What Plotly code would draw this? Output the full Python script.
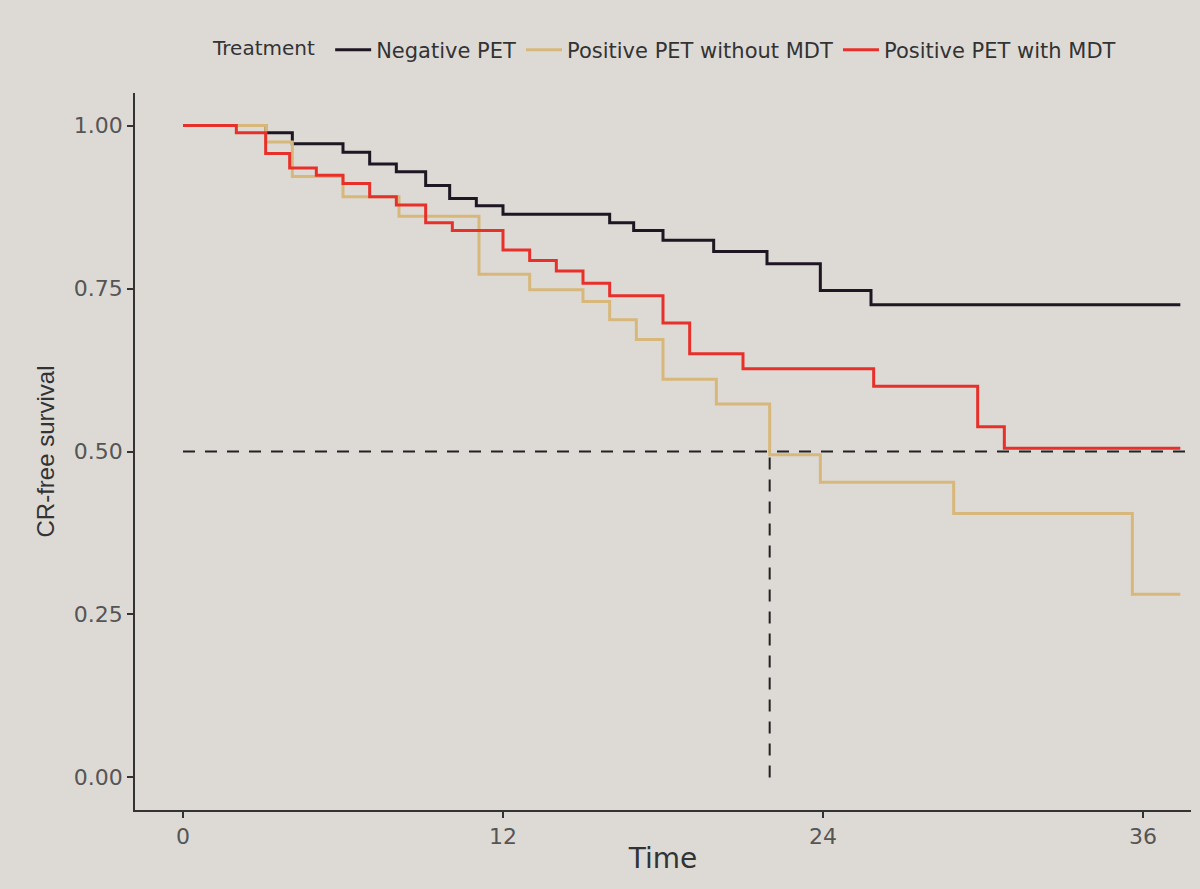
import plotly.graph_objects as go

# ---- data ----
groups = ["Negative PET", "Positive PET without MDT", "Positive PET with MDT"]

neg_time = [0, 3.1, 4.1, 6.0, 7.0, 8.0, 9.1, 10.0, 11.0, 12.0, 16.0, 16.9, 18.0, 19.9, 21.9, 23.9, 25.8]
neg_surv = [1.0, 0.989, 0.972, 0.959, 0.941, 0.929, 0.908, 0.888, 0.877, 0.864, 0.851, 0.839, 0.824, 0.807, 0.788, 0.747, 0.725]

posno_time = [0, 3.1, 4.1, 6.0, 8.1, 11.1, 13.0, 15.0, 16.0, 17.0, 18.0, 20.0, 22.0, 23.9, 28.9, 35.6]
posno_surv = [1.0, 0.975, 0.922, 0.891, 0.861, 0.772, 0.748, 0.730, 0.702, 0.672, 0.611, 0.573, 0.495, 0.453, 0.405, 0.281]

posmdt_time = [0, 2.0, 3.1, 4.0, 5.0, 6.0, 7.0, 8.0, 9.1, 10.1, 12.0, 13.0, 14.0, 15.0, 16.0, 18.0, 19.0, 21.0, 25.9, 29.8, 30.8]
posmdt_surv = [1.0, 0.989, 0.957, 0.935, 0.924, 0.911, 0.891, 0.878, 0.851, 0.839, 0.809, 0.793, 0.777, 0.758, 0.739, 0.697, 0.650, 0.627, 0.600, 0.538, 0.505]

last_followup = 37.4
median_time = 22.0
median_level = 0.5

x_ticks = [0, 12, 24, 36]
y_ticks = [0, 0.25, 0.5, 0.75, 1.0]
y_tick_text = ["0.00", "0.25", "0.50", "0.75", "1.00"]

colors = ["#1e1622", "#d8b87a", "#e8302a"]

BG = "rgb(221,218,214)"
FONT = "DejaVu Sans"

fig = go.Figure()

series = [(neg_time, neg_surv), (posno_time, posno_surv), (posmdt_time, posmdt_surv)]
for name, (t, s), c in zip(groups, series, colors):
    fig.add_trace(go.Scatter(
        x=t + [last_followup], y=s + [s[-1]],
        mode="lines", line=dict(color=c, width=3, shape="hv"),
        name=name, showlegend=True,
    ))

# median survival guide lines
fig.add_trace(go.Scatter(
    x=[0, 37.8], y=[median_level, median_level], mode="lines",
    line=dict(color="#222222", width=2, dash="12px,10px"), showlegend=False, hoverinfo="skip"))
fig.add_trace(go.Scatter(
    x=[median_time, median_time], y=[0, median_level], mode="lines",
    line=dict(color="#222222", width=2, dash="12px,10px"), showlegend=False, hoverinfo="skip"))

fig.update_layout(
    width=1200, height=889,
    paper_bgcolor=BG, plot_bgcolor=BG,
    margin=dict(l=135, r=9, t=93, b=79),
    font=dict(family=FONT, color="#333333"),
    legend=dict(
        orientation="h", x=0.072, xanchor="left", y=1.06, yanchor="middle",
        title=dict(text="Treatment ", font=dict(size=20, color="#333333", family=FONT)),
        font=dict(size=21, color="#333333", family=FONT),
        itemwidth=36,
        bgcolor="rgba(0,0,0,0)",
    ),
    xaxis=dict(
        range=[-1.8, 37.8], tickvals=x_ticks, ticktext=[str(v) for v in x_ticks],
        showgrid=False, zeroline=False, showline=True, linecolor="#333333", linewidth=1.5,
        ticks="outside", ticklen=6, tickcolor="#333333", tickwidth=1.5,
        tickfont=dict(size=22, color="#555555", family=FONT),
        title=dict(text="Time", font=dict(size=28, color="#333333", family=FONT), standoff=0),
    ),
    yaxis=dict(
        range=[-0.05, 1.05], tickvals=y_ticks, ticktext=y_tick_text,
        showgrid=False, zeroline=False, showline=True, linecolor="#333333", linewidth=1.5,
        ticks="outside", ticklen=6, tickcolor="#333333", tickwidth=1.5,
        tickfont=dict(size=22, color="#555555", family=FONT),
        title=dict(text="CR-free survival", font=dict(size=24, color="#333333", family="Liberation Sans"), standoff=12),
    ),
)

fig.write_html("out.html")
